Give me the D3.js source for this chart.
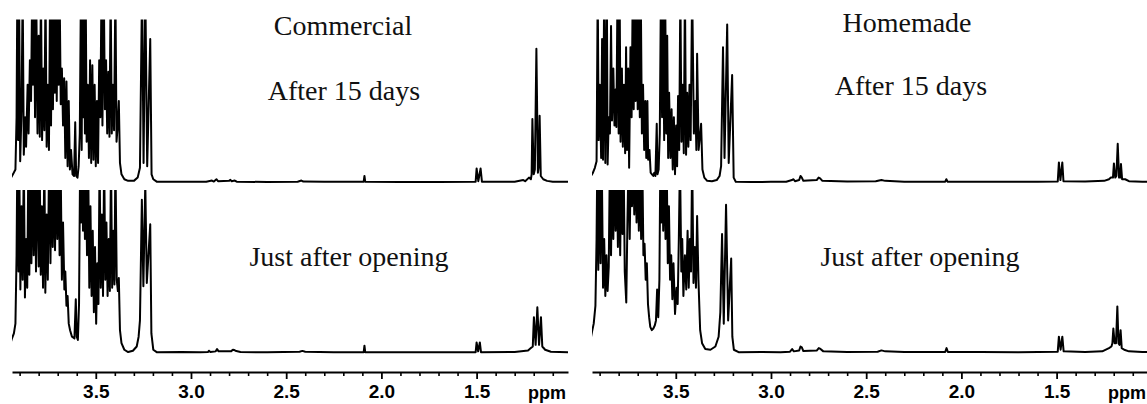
<!DOCTYPE html>
<html>
<head>
<meta charset="utf-8">
<script src="https://cdn.jsdelivr.net/npm/d3@7"></script>
<style>
  body { margin: 0; background: #fff; }
</style>
</head>
<body>
<script>
// Data
const panelTitles = ["Commercial", "Homemade"];
const traceLabels = ["After 15 days", "Just after opening"];
const majorTicks = [3.5, 3.0, 2.5, 2.0, 1.5];
const minorTicks = [3.9, 3.8, 3.7, 3.6, 3.4, 3.3, 3.2, 3.1, 2.9, 2.8, 2.7, 2.6,
                    2.4, 2.3, 2.2, 2.1, 1.9, 1.8, 1.7, 1.6, 1.4, 1.3, 1.2, 1.1];
const unitLabel = "ppm";

// [ppm, intensity], 100 = top of the trace window
const commercial15 = [
  [3.945, 3], [3.935, 5], [3.922, 8], [3.916, 40], [3.912, 120], [3.908, 26], [3.903, 120],
  [3.897, 13], [3.890, 44], [3.884, 120], [3.878, 17], [3.871, 40], [3.866, 22], [3.858, 60],
  [3.853, 30], [3.846, 75], [3.840, 50], [3.834, 120], [3.830, 60], [3.825, 120], [3.819, 40],
  [3.813, 120], [3.806, 30], [3.800, 90], [3.794, 28], [3.788, 120], [3.782, 26], [3.776, 70],
  [3.770, 32], [3.764, 120], [3.758, 22], [3.752, 60], [3.746, 20], [3.740, 120], [3.735, 35],
  [3.730, 120], [3.725, 45], [3.720, 120], [3.715, 55], [3.710, 120], [3.705, 50], [3.700, 120],
  [3.695, 60], [3.690, 120], [3.684, 48], [3.678, 70], [3.672, 35], [3.666, 64], [3.660, 15],
  [3.654, 62], [3.648, 10], [3.642, 50], [3.636, 8], [3.630, 20], [3.622, 5], [3.614, 4],
  [3.608, 37], [3.603, 4], [3.596, 3], [3.590, 10], [3.584, 30], [3.578, 120], [3.574, 20],
  [3.570, 120], [3.566, 40], [3.562, 120], [3.557, 30], [3.553, 120], [3.548, 25], [3.542, 60],
  [3.536, 15], [3.530, 75], [3.524, 12], [3.518, 72], [3.512, 14], [3.506, 60], [3.500, 10],
  [3.494, 50], [3.488, 12], [3.482, 75], [3.476, 40], [3.470, 120], [3.465, 35], [3.458, 120],
  [3.452, 45], [3.446, 75], [3.440, 30], [3.434, 68], [3.428, 28], [3.422, 120], [3.416, 30],
  [3.410, 60], [3.404, 32], [3.397, 120], [3.391, 25], [3.385, 35], [3.379, 50], [3.373, 12],
  [3.365, 5], [3.350, 2], [3.330, 1], [3.300, 1], [3.280, 3], [3.268, 9], [3.257, 120],
  [3.249, 12], [3.240, 120], [3.230, 10], [3.214, 88], [3.207, 5], [3.198, 2], [3.180, 0.5],
  [3.100, 0.4], [3.000, 0.5], [2.920, 0.4], [2.890, 1.2], [2.880, 0.6], [2.866, 2], [2.858, 0.8],
  [2.800, 1], [2.793, 1.6], [2.786, 0.8], [2.770, 1.2], [2.760, 0.5], [2.600, 0.3], [2.440, 0.5],
  [2.420, 1.2], [2.410, 0.6], [2.300, 0.4], [2.093, 0.5], [2.089, 4], [2.085, 0.5], [1.900, 0.3],
  [1.700, 0.3], [1.505, 0.5], [1.500, 8.6], [1.491, 0.8], [1.479, 8.6], [1.472, 0.5], [1.300, 0.5],
  [1.255, 1.5], [1.245, 0.8], [1.225, 3], [1.215, 2], [1.211, 5], [1.207, 39], [1.200, 5],
  [1.194, 8], [1.186, 82], [1.178, 6], [1.173, 10], [1.169, 41], [1.163, 4], [1.150, 2],
  [1.130, 1], [1.100, 0.5], [1.020, 0.4]
];

const commercialOpen = [
  [3.945, 7], [3.940, 9], [3.930, 12], [3.922, 18], [3.916, 60], [3.912, 120], [3.906, 50],
  [3.902, 120], [3.896, 39], [3.890, 90], [3.884, 45], [3.878, 120], [3.872, 34], [3.866, 70],
  [3.860, 40], [3.854, 120], [3.849, 48], [3.843, 120], [3.838, 55], [3.832, 120], [3.826, 60],
  [3.820, 120], [3.814, 50], [3.808, 120], [3.800, 53], [3.795, 120], [3.789, 48], [3.783, 90],
  [3.777, 40], [3.770, 120], [3.765, 37], [3.758, 85], [3.752, 45], [3.745, 120], [3.738, 55],
  [3.732, 120], [3.726, 65], [3.720, 120], [3.714, 63], [3.708, 120], [3.702, 70], [3.696, 120],
  [3.690, 60], [3.684, 110], [3.678, 45], [3.672, 80], [3.665, 39], [3.660, 50], [3.654, 29],
  [3.648, 35], [3.642, 18], [3.635, 14], [3.625, 10], [3.612, 9], [3.605, 33], [3.600, 10],
  [3.594, 8], [3.588, 30], [3.582, 120], [3.577, 80], [3.572, 120], [3.567, 75], [3.562, 120],
  [3.557, 70], [3.552, 120], [3.546, 60], [3.540, 120], [3.534, 40], [3.528, 90], [3.522, 35],
  [3.516, 75], [3.510, 25], [3.504, 65], [3.498, 18], [3.492, 55], [3.486, 30], [3.480, 120],
  [3.474, 40], [3.468, 85], [3.462, 35], [3.456, 120], [3.450, 45], [3.444, 80], [3.438, 35],
  [3.432, 70], [3.426, 38], [3.420, 120], [3.414, 40], [3.408, 75], [3.402, 42], [3.397, 120],
  [3.390, 45], [3.384, 38], [3.379, 46], [3.373, 14], [3.365, 6], [3.350, 2], [3.330, 0.6],
  [3.305, 1.4], [3.285, 4], [3.275, 10], [3.268, 20], [3.258, 94], [3.250, 41], [3.240, 104],
  [3.232, 43], [3.214, 79], [3.208, 12], [3.198, 2], [3.180, 0.5], [3.050, 0.6], [2.950, 0.4],
  [2.910, 0.6], [2.906, 1.4], [2.898, 0.6], [2.870, 1], [2.863, 2.4], [2.855, 1], [2.790, 1],
  [2.780, 2], [2.772, 1.8], [2.762, 1.2], [2.740, 0.6], [2.600, 0.4], [2.430, 0.8], [2.415, 1.3],
  [2.400, 0.8], [2.250, 0.5], [2.093, 0.5], [2.089, 4.5], [2.085, 0.5], [1.900, 0.5], [1.700, 0.4],
  [1.505, 0.5], [1.500, 6.5], [1.492, 1], [1.483, 6.5], [1.477, 0.5], [1.300, 0.6], [1.230, 1.5],
  [1.215, 3], [1.205, 4], [1.199, 22], [1.190, 5], [1.181, 28], [1.172, 5], [1.162, 22],
  [1.155, 4], [1.140, 2], [1.110, 0.8], [1.020, 0.5]
];

const homemade15 = [
  [3.945, 4], [3.935, 6], [3.925, 9], [3.916, 13], [3.910, 120], [3.905, 26], [3.899, 60],
  [3.892, 15], [3.887, 88], [3.882, 14], [3.876, 120], [3.870, 12], [3.862, 120], [3.858, 11],
  [3.852, 40], [3.846, 30], [3.840, 96], [3.835, 38], [3.828, 70], [3.822, 35], [3.816, 57],
  [3.812, 34], [3.806, 120], [3.800, 30], [3.795, 120], [3.790, 25], [3.783, 70], [3.778, 22],
  [3.772, 60], [3.766, 18], [3.761, 83], [3.756, 20], [3.750, 70], [3.745, 9], [3.738, 83],
  [3.732, 40], [3.726, 120], [3.721, 45], [3.716, 120], [3.711, 50], [3.706, 120], [3.700, 45],
  [3.695, 120], [3.689, 40], [3.684, 120], [3.678, 30], [3.672, 60], [3.666, 20], [3.660, 50],
  [3.655, 15], [3.649, 50], [3.645, 14], [3.638, 20], [3.632, 6], [3.625, 5], [3.618, 4],
  [3.613, 6], [3.607, 4], [3.600, 36], [3.596, 5], [3.590, 8], [3.584, 30], [3.578, 120],
  [3.572, 40], [3.567, 120], [3.561, 26], [3.556, 120], [3.550, 30], [3.545, 90], [3.540, 15],
  [3.535, 55], [3.528, 15], [3.522, 45], [3.516, 8], [3.510, 40], [3.504, 5], [3.498, 35],
  [3.493, 10], [3.488, 53], [3.482, 20], [3.476, 120], [3.470, 25], [3.464, 60], [3.458, 18],
  [3.452, 120], [3.446, 17], [3.440, 55], [3.434, 22], [3.428, 60], [3.422, 26], [3.414, 120],
  [3.405, 30], [3.397, 50], [3.392, 20], [3.388, 79], [3.380, 20], [3.367, 36], [3.360, 8],
  [3.350, 3], [3.335, 1], [3.310, 0.8], [3.285, 1.5], [3.270, 4], [3.262, 10], [3.252, 83],
  [3.244, 15], [3.230, 97], [3.222, 12], [3.204, 66], [3.196, 3], [3.185, 0.5], [3.100, 0.3],
  [3.000, 0.4], [2.920, 0.5], [2.890, 1.5], [2.882, 2], [2.874, 0.8], [2.852, 1.5], [2.845, 4],
  [2.838, 3], [2.830, 1], [2.760, 1.5], [2.750, 3], [2.742, 2.5], [2.730, 1], [2.600, 0.6],
  [2.450, 0.8], [2.420, 1.5], [2.400, 1], [2.300, 0.5], [2.085, 0.5], [2.079, 2], [2.073, 0.5],
  [1.900, 0.5], [1.800, 0.4], [1.600, 0.5], [1.494, 0.6], [1.488, 12.3], [1.480, 1.5],
  [1.470, 12.3], [1.464, 0.8], [1.350, 0.6], [1.250, 1], [1.225, 2], [1.215, 3], [1.204, 3],
  [1.199, 11.7], [1.192, 3], [1.186, 4], [1.179, 23.7], [1.172, 3], [1.166, 3], [1.162, 11.3],
  [1.156, 2], [1.140, 2], [1.120, 0.8], [1.050, 0.5], [1.020, 0.5]
];

const homemadeOpen = [
  [3.945, 10], [3.940, 13], [3.931, 18], [3.922, 29], [3.916, 70], [3.912, 120], [3.907, 51],
  [3.901, 120], [3.895, 55], [3.889, 120], [3.882, 40], [3.876, 70], [3.870, 35], [3.864, 60],
  [3.858, 38], [3.852, 53], [3.846, 120], [3.840, 60], [3.834, 120], [3.828, 70], [3.822, 120],
  [3.816, 75], [3.810, 120], [3.804, 65], [3.798, 120], [3.792, 60], [3.786, 120], [3.780, 73],
  [3.774, 120], [3.768, 50], [3.760, 31], [3.754, 80], [3.748, 120], [3.742, 70], [3.736, 120],
  [3.730, 90], [3.724, 120], [3.718, 85], [3.712, 120], [3.706, 80], [3.700, 120], [3.694, 75],
  [3.688, 120], [3.682, 70], [3.676, 120], [3.670, 60], [3.664, 67], [3.658, 45], [3.652, 55],
  [3.646, 30], [3.640, 22], [3.634, 16], [3.626, 14], [3.618, 15], [3.610, 17], [3.604, 20],
  [3.598, 39], [3.592, 22], [3.586, 45], [3.581, 120], [3.576, 80], [3.571, 120], [3.566, 75],
  [3.560, 120], [3.554, 70], [3.548, 120], [3.542, 55], [3.536, 90], [3.530, 45], [3.524, 60],
  [3.518, 33], [3.512, 55], [3.504, 24], [3.496, 40], [3.490, 30], [3.484, 70], [3.478, 120],
  [3.471, 50], [3.466, 70], [3.460, 35], [3.452, 60], [3.445, 39], [3.438, 75], [3.432, 40],
  [3.426, 70], [3.420, 50], [3.414, 120], [3.407, 43], [3.400, 65], [3.394, 40], [3.388, 84],
  [3.381, 45], [3.372, 14], [3.362, 6], [3.345, 2.4], [3.318, 2], [3.292, 4], [3.275, 10],
  [3.266, 25], [3.257, 73], [3.248, 18], [3.236, 91], [3.225, 20], [3.209, 58], [3.203, 10],
  [3.195, 2], [3.170, 0.5], [3.050, 0.6], [2.950, 0.5], [2.900, 0.8], [2.889, 2.4], [2.880, 1],
  [2.852, 1.5], [2.845, 4], [2.838, 3.5], [2.830, 1.2], [2.760, 1.5], [2.749, 3], [2.740, 2.5],
  [2.725, 1], [2.600, 0.6], [2.440, 0.8], [2.420, 1.6], [2.400, 1], [2.300, 0.6], [2.085, 0.6],
  [2.078, 3], [2.071, 0.6], [1.900, 0.6], [1.700, 0.5], [1.494, 0.8], [1.488, 10], [1.479, 2],
  [1.470, 10], [1.463, 1], [1.350, 0.6], [1.260, 1], [1.225, 3], [1.212, 4], [1.207, 6],
  [1.202, 15], [1.195, 6], [1.188, 6], [1.181, 28.6], [1.175, 6], [1.170, 5], [1.164, 14],
  [1.158, 3], [1.145, 2], [1.120, 1], [1.050, 0.6], [1.020, 0.6]
];

const spectra = [
  [commercial15, commercialOpen],
  [homemade15, homemadeOpen]
];

// Layout
const w = 1147;
const h = 404;
const panelShift = 580;
const axisY = 372;
const titlePos = [[343, 35], [327, 32]];
const topLabelPos = [[344, 100], [331, 95]];
const bottomLabelPos = [[349, 266], [340, 266]];

// Scales
const xScale = d3.scaleLinear()
                 .domain([3.94, 1.02])
                 .range([12, 568]);

const yScales = [
  d3.scaleLinear().domain([0, 100]).range([182.5, 19.5]),
  d3.scaleLinear().domain([0, 100]).range([353, 190])
];

const svg = d3.select("body")
              .append("svg")
              .attr("width", w)
              .attr("height", h)
              .style("background", "#fff");

// clip windows, one per stacked trace
const defs = svg.append("defs");
yScales.forEach((ys, k) => {
  defs.append("clipPath")
      .attr("id", "win" + k)
      .append("rect")
      .attr("x", xScale.range()[0])
      .attr("y", ys.range()[1])
      .attr("width", xScale.range()[1] - xScale.range()[0])
      .attr("height", ys.range()[0] - ys.range()[1] + 6);
});

panelTitles.forEach((title, i) => {
  const g = svg.append("g")
               .attr("transform", "translate(" + (i * panelShift) + ",0)");

  // Spectra
  spectra[i].forEach((trace, k) => {
    const line = d3.line()
                   .x((d) => xScale(d[0]))
                   .y((d) => yScales[k](d[1]));
    g.append("path")
     .datum(trace)
     .attr("clip-path", "url(#win" + k + ")")
     .attr("fill", "none")
     .attr("stroke", "#000")
     .attr("stroke-width", 2)
     .attr("stroke-linejoin", "round")
     .attr("d", line);
  });

  // Axis
  const minorAxis = d3.axisBottom(xScale)
                      .tickValues(minorTicks)
                      .tickSize(4)
                      .tickSizeOuter(0)
                      .tickFormat("");
  const majorAxis = d3.axisBottom(xScale)
                      .tickValues(majorTicks)
                      .tickSize(7)
                      .tickSizeOuter(0)
                      .tickPadding(6)
                      .tickFormat(d3.format(".1f"));

  g.append("g")
   .attr("transform", "translate(0," + axisY + ")")
   .call(minorAxis)
   .call((a) => a.select(".domain").remove())
   .selectAll("line")
   .attr("stroke", "#000")
   .attr("stroke-width", 1.6);

  const ax = g.append("g")
              .attr("transform", "translate(0," + axisY + ")")
              .call(majorAxis);
  ax.select(".domain").attr("stroke", "#000").attr("stroke-width", 2);
  ax.selectAll("line").attr("stroke", "#000").attr("stroke-width", 1.8);
  ax.selectAll("text")
    .attr("fill", "#000")
    .style("font-family", "'Liberation Sans', Arial, sans-serif")
    .style("font-weight", "bold")
    .style("font-size", "19px");

  g.append("text")
   .attr("x", xScale.range()[1] - 2)
   .attr("y", 399)
   .attr("text-anchor", "end")
   .style("font-family", "'Liberation Sans', Arial, sans-serif")
   .style("font-weight", "bold")
   .style("font-size", "18px")
   .text(unitLabel);

  // Labels
  const labels = [
    [title, titlePos[i]],
    [traceLabels[0], topLabelPos[i]],
    [traceLabels[1], bottomLabelPos[i]]
  ];
  labels.forEach((l) => {
    g.append("text")
     .attr("x", l[1][0])
     .attr("y", l[1][1])
     .attr("text-anchor", "middle")
     .attr("fill", "#111")
     .style("font-family", "'Liberation Serif', 'Times New Roman', serif")
     .style("font-size", "28px")
     .text(l[0]);
  });
});
</script>
</body>
</html>
